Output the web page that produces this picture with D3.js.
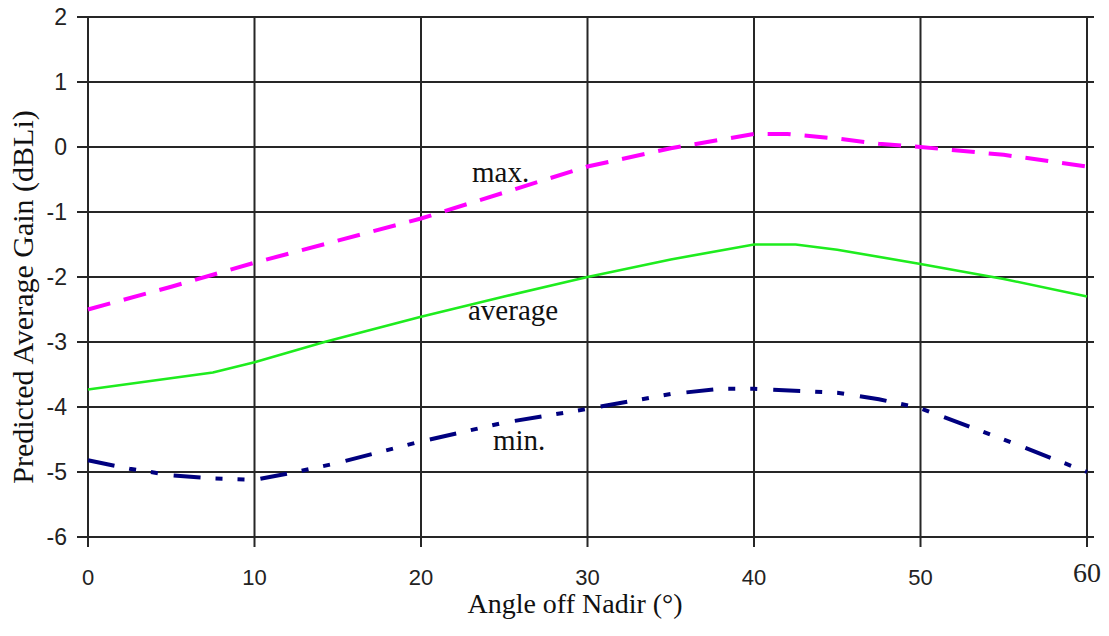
<!DOCTYPE html>
<html><head><meta charset="utf-8">
<script src="https://cdn.jsdelivr.net/npm/d3@7"></script>
<style>html,body{margin:0;padding:0;background:#fff;}svg{display:block;}</style>
</head><body>
<svg id="chart" width="1109" height="636"></svg>
<script>
const xTicks = [0, 10, 20, 30, 40, 50, 60];
const yTicks = [2, 1, 0, -1, -2, -3, -4, -5, -6];
const maxAngles = [0, 5, 10, 15, 20, 25, 30, 35, 40, 42, 45, 47.5, 50, 55, 60];
const maxGain   = [-2.5, -2.15, -1.78, -1.44, -1.1, -0.7, -0.3, -0.02, 0.2, 0.2, 0.13, 0.05, 0.0, -0.12, -0.3];
const avgAngles = [0, 7.5, 10, 14.2, 20, 25, 30, 35, 40, 42.5, 45, 50, 55, 60];
const avgGain   = [-3.73, -3.47, -3.31, -3.0, -2.61, -2.3, -2.0, -1.73, -1.5, -1.5, -1.58, -1.8, -2.03, -2.3];
const minAngles = [0, 2.5, 5, 7.5, 10, 12.5, 15, 20, 25, 30, 35, 38, 40, 45, 47.5, 50, 55, 60];
const minGain   = [-4.82, -4.95, -5.05, -5.1, -5.12, -5.0, -4.86, -4.53, -4.24, -4.03, -3.8, -3.72, -3.72, -3.78, -3.88, -4.02, -4.5, -5.0];
const seriesLabels = ["max.", "average", "min."];

const svg = d3.select("#chart");
const x = d3.scaleLinear().domain([0, 60]).range([88, 1087]);
const y = d3.scaleLinear().domain([-6, 2]).range([537, 17]);
const gridColor = "#262626";

// horizontal grid lines (extend left as ticks)
svg.append("g").selectAll("line").data(yTicks).join("line")
  .attr("x1", 77).attr("x2", 1094)
  .attr("y1", d => y(d)).attr("y2", d => y(d))
  .attr("stroke", gridColor).attr("stroke-width", 2);
// vertical grid lines (extend down as ticks)
svg.append("g").selectAll("line").data(xTicks).join("line")
  .attr("x1", d => x(d)).attr("x2", d => x(d))
  .attr("y1", y(2)).attr("y2", 547)
  .attr("stroke", gridColor).attr("stroke-width", 2);

// y tick labels
svg.append("g").selectAll("text").data(yTicks).join("text")
  .attr("x", 67).attr("y", d => y(d)).attr("dy", "0.36em")
  .attr("text-anchor", "end")
  .attr("font-family", "Liberation Sans, Arial, sans-serif").attr("font-size", 23)
  .attr("fill", "#222").text(d => d);
// x tick labels
svg.append("g").selectAll("text").data(xTicks).join("text")
  .attr("x", d => x(d)).attr("y", d => d === 60 ? 582 : 585)
  .attr("text-anchor", "middle")
  .attr("font-family", d => d === 60 ? "Liberation Serif, Times New Roman, serif" : "Liberation Sans, Arial, sans-serif")
  .attr("font-size", d => d === 60 ? 28 : 22)
  .attr("fill", "#222").text(d => d);

// axis titles
svg.append("text").attr("x", 575).attr("y", 613).attr("text-anchor", "middle")
  .attr("font-family", "Liberation Serif, Times New Roman, serif").attr("font-size", 28)
  .attr("fill", "#111").text("Angle off Nadir (°)");
svg.append("text").attr("transform", "translate(33,297) rotate(-90)").attr("text-anchor", "middle")
  .attr("font-family", "Liberation Serif, Times New Roman, serif").attr("font-size", 30)
  .attr("fill", "#111").text("Predicted Average Gain (dBLi)");

const line = d3.line().x(d => x(d[0])).y(d => y(d[1]));
const zip = (a, b) => a.map((v, i) => [v, b[i]]);

svg.append("path").datum(zip(avgAngles, avgGain)).attr("d", line)
  .attr("fill", "none").attr("stroke", "#1eec1e").attr("stroke-width", 2.6);
svg.append("path").datum(zip(maxAngles, maxGain)).attr("d", line)
  .attr("fill", "none").attr("stroke", "#ff00ff").attr("stroke-width", 4)
  .attr("stroke-dasharray", "23,14");
svg.append("path").datum(zip(minAngles, minGain)).attr("d", line)
  .attr("fill", "none").attr("stroke", "#00007f").attr("stroke-width", 4)
  .attr("stroke-dasharray", "27,15,7,15,7,16");

// series labels
const labelPos = [[472, 182], [468, 320], [493, 450]];
svg.append("g").selectAll("text").data(seriesLabels).join("text")
  .attr("x", (d, i) => labelPos[i][0]).attr("y", (d, i) => labelPos[i][1])
  .attr("font-family", "Liberation Serif, Times New Roman, serif").attr("font-size", 29)
  .attr("fill", "#111").text(d => d);
</script>
</body></html>
